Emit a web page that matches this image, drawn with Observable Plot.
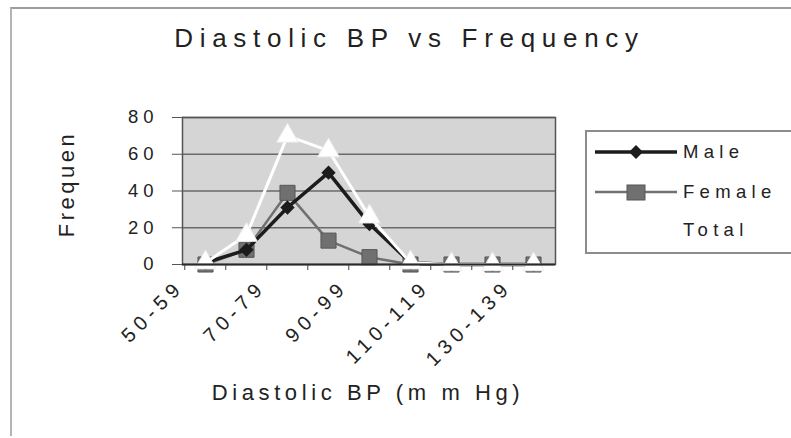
<!DOCTYPE html>
<html>
<head>
<meta charset="utf-8">
<script src="https://cdn.jsdelivr.net/npm/d3@7"></script>
<script src="https://cdn.jsdelivr.net/npm/@observablehq/plot@0.6"></script>
<style>
  html, body { margin: 0; padding: 0; background: #fff; }
  #wrap { position: relative; width: 791px; height: 438px; overflow: hidden;
          font-family: "Liberation Sans", Arial, sans-serif; color: #222; }
  #border { position: absolute; left: 10px; top: 7px; width: 800px; height: 427px;
            border-top: 2px solid #9c9c9c; border-left: 2px solid #b4b4b4; }
  #chart { position: absolute; left: 0; top: 0; }
  #chart g[aria-label="x-axis tick label"] { font-size: 20px; letter-spacing: 5.5px; }
  #title { position: absolute; left: 14px; width: 791px; top: 25px; text-align: center;
           font-size: 26px; line-height: 26px; letter-spacing: 6.7px; color: #222; white-space: nowrap; }
  #ylabel { position: absolute; left: 67px; top: 184px; transform: translate(-50%, -50%) rotate(-90deg);
            font-size: 22px; line-height: 22px; letter-spacing: 3.5px; color: #222; white-space: nowrap; }
  #xlabel { position: absolute; left: 368px; top: 393px; transform: translate(-50%, -50%);
            font-size: 22px; line-height: 22px; letter-spacing: 4.6px; color: #222; white-space: nowrap; }
  #legend { position: absolute; left: 585px; top: 130px; width: 215px; height: 120px;
            border: 2px solid #8c8c8c; background: #fff; }
  .entry { position: absolute; left: 8px; height: 24px; display: flex; align-items: center; }
  .entry span { margin-left: 6px; font-size: 18.5px; letter-spacing: 5.3px; color: #222; }
</style>
</head>
<body>
<div id="wrap">
  <div id="border"></div>
  <div id="chart"></div>
  <div id="title"></div>
  <div id="ylabel"></div>
  <div id="xlabel"></div>
  <div id="legend"></div>
</div>
<script>
// ---- data ----
const categories = ["50-59", "60-69", "70-79", "80-89", "90-99", "100-109", "110-119", "120-129", "130-139"];
const male   = [1, 8, 31, 50, 22, 1, 0, 0, 0];
const female = [0, 8, 39, 13, 4, 0, 0, 0, 0];
const total  = [1, 16, 70, 62, 26, 1, 0, 0, 0];
const shownTickLabels = ["50-59", "70-79", "90-99", "110-119", "130-139"];
const yTicks = [0, 20, 40, 60, 80];
const seriesNames = ["Male", "Female", "Total"];
const titleText = "Diastolic BP vs Frequency";
const xTitle = "Diastolic BP (m m Hg)";
const yTitle = "Frequen";

// ---- table built from the arrays ----
const rows = categories.map((c, i) => ({cat: c, male: male[i], female: female[i], total: total[i]}));

const W = 791, H = 438;
const plotLeft = 182, plotRight = 555, plotTop = 117, plotBottom = 264;
const halfStep = (plotRight - plotLeft) / categories.length / 2;

const colors = {male: "#1c1c1c", female: "#707070", femaleEdge: "#575757", total: "#ffffff"};

const chart = Plot.plot({
  width: W,
  height: H,
  marginLeft: plotLeft,
  marginRight: W - plotRight,
  marginTop: plotTop,
  marginBottom: H - plotBottom,
  style: {fontFamily: "'Liberation Sans', Arial, sans-serif", fontSize: "18.5px", letterSpacing: "5px",
          background: "transparent", color: "#222", overflow: "visible"},
  x: {type: "point", domain: categories, padding: 0.5},
  y: {domain: [0, 80]},
  marks: [
    Plot.frame({fill: "#d5d5d5", stroke: null}),
    Plot.gridY(yTicks.filter(v => v > 0), {stroke: "#6a6a6a", strokeOpacity: 1, strokeWidth: 1.5}),
    Plot.axisY({ticks: yTicks, tickSize: 10, tickPadding: 14, label: null, stroke: "#555"}),
    Plot.axisX({ticks: categories, tickSize: 6, tickFormat: () => "", dx: -halfStep, label: null, stroke: "#444"}),
    Plot.axisX({ticks: shownTickLabels, tickSize: 0, tickPadding: 19, tickRotate: -45, dx: -25, label: null}),
    Plot.line(rows, {x: "cat", y: "female", stroke: colors.female, strokeWidth: 2.5}),
    Plot.dot(rows, {x: "cat", y: "female", symbol: "square", r: 8.5, fill: colors.female, stroke: colors.femaleEdge, strokeWidth: 1}),
    Plot.line(rows, {x: "cat", y: "male", stroke: colors.male, strokeWidth: 3.5}),
    Plot.dot(rows, {x: "cat", y: "male", symbol: "diamond2", r: 5.5, fill: colors.male, stroke: colors.male}),
    Plot.line(rows, {x: "cat", y: "total", stroke: colors.total, strokeWidth: 3}),
    Plot.dot(rows, {x: "cat", y: "total", symbol: "triangle", r: 8, fill: colors.total, stroke: "#eeeeee", strokeWidth: 1}),
    Plot.frame({stroke: "#555", strokeWidth: 1.5}),
    Plot.ruleY([0], {stroke: "#2a2a2a", strokeWidth: 2})
  ]
});
document.getElementById("chart").appendChild(chart);

document.getElementById("title").textContent = titleText;
document.getElementById("xlabel").textContent = xTitle;
document.getElementById("ylabel").textContent = yTitle;

// ---- legend ----
const legend = document.getElementById("legend");
const legendRows = [
  {name: seriesNames[0], top: 8, line: colors.male, lw: 3.5, marker: "diamond"},
  {name: seriesNames[1], top: 48, line: colors.female, lw: 2.5, marker: "square"},
  {name: seriesNames[2], top: 86, line: colors.total, lw: 3, marker: "triangle"}
];
for (const r of legendRows) {
  const e = document.createElement("div");
  e.className = "entry";
  e.style.top = r.top + "px";
  let m = "";
  if (r.marker === "diamond") m = `<path d="M41 5 L48 12 L41 19 L34 12 Z" fill="${colors.male}"/>`;
  if (r.marker === "square") m = `<rect x="32" y="5" width="18" height="15" fill="${colors.female}" stroke="${colors.femaleEdge}"/>`;
  if (r.marker === "triangle") m = `<path d="M41 4 L49 18 L33 18 Z" fill="#fff"/>`;
  e.innerHTML = `<svg width="82" height="24"><line x1="0" x2="82" y1="12" y2="12" stroke="${r.line}" stroke-width="${r.lw}"/>${m}</svg><span>${r.name}</span>`;
  legend.appendChild(e);
}
</script>
</body>
</html>
